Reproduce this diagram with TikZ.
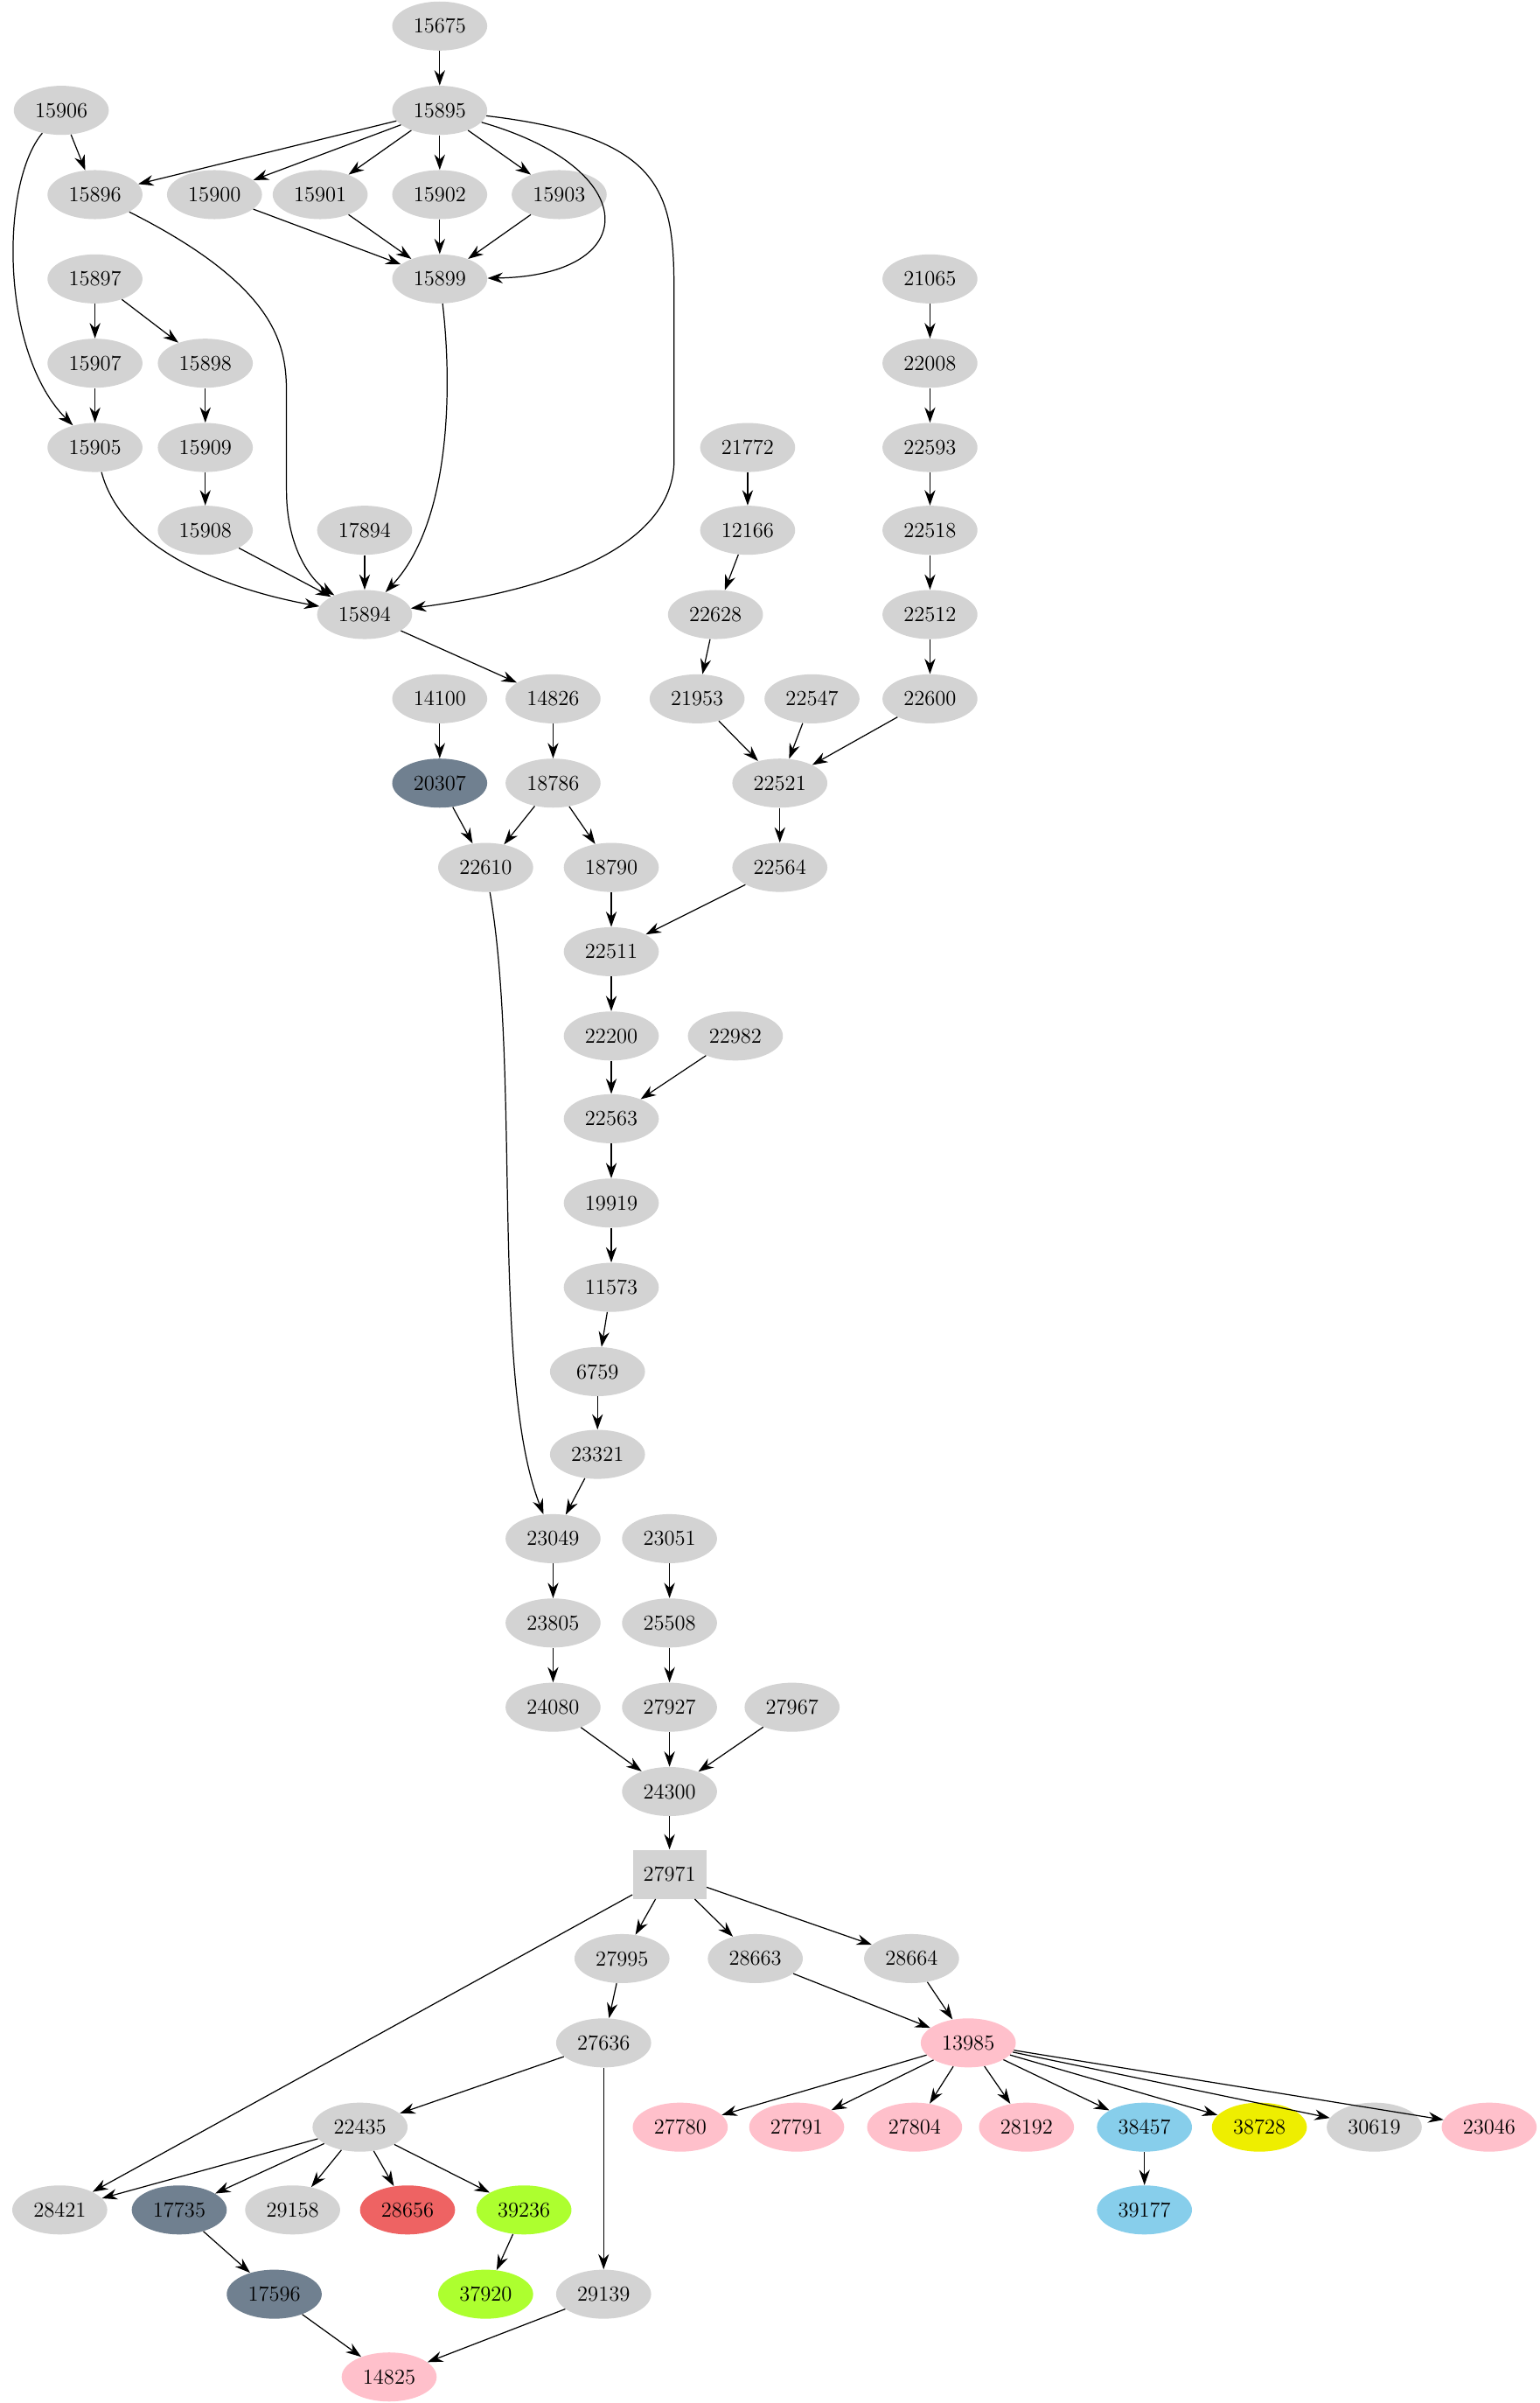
\documentclass[tikz,border=0pt]{standalone}
\usetikzlibrary{arrows.meta,shapes.geometric}
\definecolor{lg}{HTML}{D3D3D3}
\definecolor{sg}{HTML}{708090}
\definecolor{pk}{HTML}{FFC0CB}
\definecolor{sk}{HTML}{87CEEB}
\definecolor{ye}{HTML}{EEEE00}
\definecolor{gy}{HTML}{ADFF2F}
\definecolor{ir}{HTML}{EE6363}
\tikzset{
  n/.style={ellipse,fill=lg,minimum width=62pt,minimum height=32pt,inner sep=0pt,font=\fontsize{14}{16}\selectfont},
  sgn/.style={n,fill=sg},
  pkn/.style={n,fill=pk},
  skn/.style={n,fill=sk},
  yen/.style={n,fill=ye},
  gyn/.style={n,fill=gy},
  irn/.style={n,fill=ir},
  boxn/.style={rectangle,fill=lg,minimum width=48pt,minimum height=32pt,inner sep=0pt,font=\fontsize{14}{16}\selectfont},
  e/.style={draw=black,line width=0.7pt,-{Stealth[length=10pt,width=7pt]}}
}
\begin{document}
\begin{tikzpicture}[x=1pt,y=-1pt]
\useasboundingbox (0,0) rectangle (1005,1568);
\node[n] (15675) at (287,17) {15675};
\node[n] (15906) at (40,72) {15906};
\node[n] (15895) at (287,72) {15895};
\node[n] (15896) at (62,127) {15896};
\node[n] (15900) at (140,127) {15900};
\node[n] (15901) at (209,127) {15901};
\node[n] (15902) at (287,127) {15902};
\node[n] (15903) at (365,127) {15903};
\node[n] (15899) at (287,182) {15899};
\node[n] (21065) at (607,182) {21065};
\node[n] (15897) at (62,182) {15897};
\node[n] (15907) at (62,237) {15907};
\node[n] (15898) at (134,237) {15898};
\node[n] (22008) at (607,237) {22008};
\node[n] (15905) at (62,292) {15905};
\node[n] (15909) at (134,292) {15909};
\node[n] (21772) at (488,292) {21772};
\node[n] (22593) at (607,292) {22593};
\node[n] (15908) at (134,346) {15908};
\node[n] (17894) at (238,346) {17894};
\node[n] (12166) at (488,346) {12166};
\node[n] (22518) at (607,346) {22518};
\node[n] (15894) at (238,401) {15894};
\node[n] (22628) at (467,401) {22628};
\node[n] (22512) at (607,401) {22512};
\node[n] (14100) at (287,456) {14100};
\node[n] (14826) at (361,456) {14826};
\node[n] (21953) at (455,456) {21953};
\node[n] (22547) at (530,456) {22547};
\node[n] (22600) at (607,456) {22600};
\node[sgn] (20307) at (287,511) {20307};
\node[n] (18786) at (361,511) {18786};
\node[n] (22521) at (509,511) {22521};
\node[n] (22610) at (317,566) {22610};
\node[n] (18790) at (399,566) {18790};
\node[n] (22564) at (509,566) {22564};
\node[n] (22511) at (399,621) {22511};
\node[n] (22200) at (399,676) {22200};
\node[n] (22982) at (480,676) {22982};
\node[n] (22563) at (399,730) {22563};
\node[n] (19919) at (399,785) {19919};
\node[n] (11573) at (399,840) {11573};
\node[n] (6759) at (390,895) {6759};
\node[n] (23321) at (390,949) {23321};
\node[n] (23049) at (361,1004) {23049};
\node[n] (23051) at (437,1004) {23051};
\node[n] (23805) at (361,1059) {23805};
\node[n] (25508) at (437,1059) {25508};
\node[n] (24080) at (361,1114) {24080};
\node[n] (27927) at (437,1114) {27927};
\node[n] (27967) at (517,1114) {27967};
\node[n] (24300) at (437,1169) {24300};
\node[boxn] (27971) at (437,1223) {27971};
\node[n] (27995) at (406,1278) {27995};
\node[n] (28663) at (493,1278) {28663};
\node[n] (28664) at (595,1278) {28664};
\node[n] (27636) at (394,1333) {27636};
\node[pkn] (13985) at (632,1333) {13985};
\node[n] (22435) at (235,1388) {22435};
\node[pkn] (27780) at (444,1388) {27780};
\node[pkn] (27791) at (520,1388) {27791};
\node[pkn] (27804) at (597,1388) {27804};
\node[pkn] (28192) at (670,1388) {28192};
\node[skn] (38457) at (747,1388) {38457};
\node[yen] (38728) at (822,1388) {38728};
\node[n] (30619) at (897,1388) {30619};
\node[pkn] (23046) at (972,1388) {23046};
\node[n] (28421) at (39,1442) {28421};
\node[sgn] (17735) at (117,1442) {17735};
\node[n] (29158) at (191,1442) {29158};
\node[irn] (28656) at (266,1442) {28656};
\node[gyn] (39236) at (342,1442) {39236};
\node[skn] (39177) at (747,1442) {39177};
\node[sgn] (17596) at (179,1497) {17596};
\node[gyn] (37920) at (317,1497) {37920};
\node[n] (29139) at (394,1497) {29139};
\node[pkn] (14825) at (254,1551) {14825};

\draw[e] (15675)--(15895);
\draw[e] (15906)--(15896);
\draw[e] (15906) .. controls (0,120) and (0,230) .. (15905);
\foreach \t in {15896,15900,15901,15902,15903} \draw[e] (15895)--(\t);
\draw[e] (15895) .. controls (420,110) and (420,180) .. (15899);
\draw[e] (15895) .. controls (440,90) and (440,130) .. (440,200) -- (440,300) .. controls (440,370) and (320,390) .. (15894);
\draw[e] (15896) .. controls (187,190) and (187,230) .. (187,260) -- (187,320) .. controls (187,360) and (205,380) .. (15894);
\foreach \s in {15900,15901,15902,15903} \draw[e] (\s)--(15899);
\draw[e] (15899) .. controls (295,250) and (295,340) .. (15894);
\draw[e] (15897)--(15907);
\draw[e] (15897)--(15898);
\draw[e] (15907)--(15905);
\draw[e] (15898)--(15909);
\draw[e] (15909)--(15908);
\draw[e] (15905) .. controls (80,360) and (150,385) .. (15894);
\draw[e] (15908)--(15894);
\draw[e] (17894)--(15894);
\draw[e] (15894)--(14826);
\draw[e] (21065)--(22008);
\draw[e] (22008)--(22593);
\draw[e] (22593)--(22518);
\draw[e] (22518)--(22512);
\draw[e] (22512)--(22600);
\draw[e] (22600)--(22521);
\draw[e] (21772)--(12166);
\draw[e] (12166)--(22628);
\draw[e] (22628)--(21953);
\draw[e] (21953)--(22521);
\draw[e] (22547)--(22521);
\draw[e] (14100)--(20307);
\draw[e] (20307)--(22610);
\draw[e] (14826)--(18786);
\draw[e] (18786)--(22610);
\draw[e] (18786)--(18790);
\draw[e] (18790)--(22511);
\draw[e] (22521)--(22564);
\draw[e] (22564)--(22511);
\draw[e] (22511)--(22200);
\draw[e] (22200)--(22563);
\draw[e] (22982)--(22563);
\draw[e] (22563)--(19919);
\draw[e] (19919)--(11573);
\draw[e] (11573)--(6759);
\draw[e] (6759)--(23321);
\draw[e] (23321)--(23049);
\draw[e] (22610) .. controls (340,700) and (320,900) .. (23049);
\draw[e] (23049)--(23805);
\draw[e] (23805)--(24080);
\draw[e] (24080)--(24300);
\draw[e] (23051)--(25508);
\draw[e] (25508)--(27927);
\draw[e] (27927)--(24300);
\draw[e] (27967)--(24300);
\draw[e] (24300)--(27971);
\draw[e] (27971)--(28421);
\draw[e] (27971)--(27995);
\draw[e] (27971)--(28663);
\draw[e] (27971)--(28664);
\draw[e] (27995)--(27636);
\draw[e] (28663)--(13985);
\draw[e] (28664)--(13985);
\draw[e] (27636)--(22435);
\draw[e] (27636)--(29139);
\foreach \t in {27780,27791,27804,28192,38457,38728,30619,23046} \draw[e] (13985)--(\t);
\foreach \t in {28421,17735,29158,28656,39236} \draw[e] (22435)--(\t);
\draw[e] (38457)--(39177);
\draw[e] (17735)--(17596);
\draw[e] (39236)--(37920);
\draw[e] (17596)--(14825);
\draw[e] (29139)--(14825);
\end{tikzpicture}
\end{document}
